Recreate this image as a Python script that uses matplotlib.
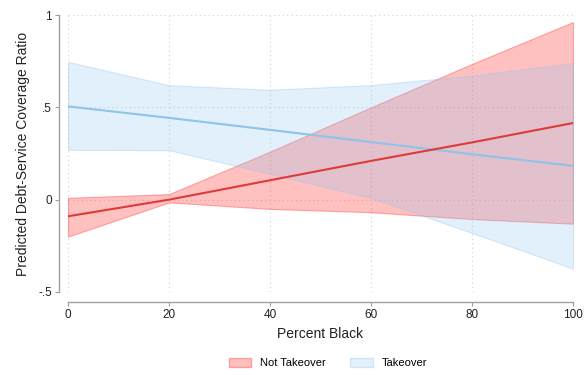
import matplotlib
matplotlib.use("Agg")
import matplotlib.pyplot as plt
from matplotlib.patches import Patch

x = [0, 20, 40, 60, 80, 100]

not_takeover = [-0.09, 0.0, 0.105, 0.21, 0.31, 0.415]
not_takeover_lo = [-0.20, -0.015, -0.05, -0.068, -0.105, -0.13]
not_takeover_hi = [0.01, 0.03, 0.26, 0.50, 0.735, 0.962]

takeover = [0.505, 0.443, 0.378, 0.312, 0.246, 0.183]
takeover_lo = [0.27, 0.268, 0.14, 0.01, -0.18, -0.373]
takeover_hi = [0.746, 0.62, 0.595, 0.62, 0.672, 0.74]

xticks = [0, 20, 40, 60, 80, 100]
yticks = [-0.5, 0, 0.5, 1]
yticklabels = ["-.5", "0", ".5", "1"]

plt.rcParams['font.family'] = ['Liberation Sans', 'DejaVu Sans']

PX = 72 / 100  # points per pixel

fig = plt.figure(figsize=(5.84, 3.75), dpi=100)
ax = fig.add_axes([68/584, 1-292/375, (573-68)/584, (292-15)/375])

red_fill = (1.0, 0.25, 0.25, 0.33)
blue_fill = (0.56, 0.77, 0.94, 0.25)
ax.fill_between(x, not_takeover_lo, not_takeover_hi, facecolor=red_fill,
                edgecolor=(1.0, 0.3, 0.3, 0.45), linewidth=0.8, zorder=2)
ax.fill_between(x, takeover_lo, takeover_hi, facecolor=blue_fill,
                edgecolor=(0.56, 0.77, 0.94, 0.35), linewidth=0.8, zorder=3)
ax.plot(x, takeover, color='#8fc3e8', linewidth=1.5, zorder=4)
ax.plot(x, not_takeover, color='#dc3b3b', linewidth=1.5, zorder=5)

ax.set_xlim(0, 100)
ax.set_ylim(-0.5, 1)
ax.set_xticks(xticks)
ax.set_yticks(yticks)
ax.set_yticklabels(yticklabels)

ax.grid(True, linestyle=(0, (1, 2.5)), color='#d8d8d8', linewidth=0.9)
ax.set_axisbelow(True)

for s in ['top', 'right']:
    ax.spines[s].set_visible(False)
ax.spines['left'].set_position(('outward', 9 * PX))
ax.spines['bottom'].set_position(('outward', 10 * PX))
for s in ['left', 'bottom']:
    ax.spines[s].set_color('#a0a0a0')
    ax.spines[s].set_linewidth(1.0)
ax.tick_params(axis='both', direction='out', length=4 * PX, color='#a0a0a0',
               labelsize=8.5, labelcolor='#222222', pad=3 * PX)

ax.set_xlabel("Percent Black", fontsize=10, color='#222222', labelpad=4)
ax.set_ylabel("Predicted Debt-Service Coverage Ratio", fontsize=10,
              color='#222222', labelpad=6)

handles = [Patch(facecolor=red_fill, edgecolor=(1.0, 0.3, 0.3, 0.45), label='Not Takeover'),
           Patch(facecolor=blue_fill, edgecolor=(0.56, 0.77, 0.94, 0.35), label='Takeover')]
fig.legend(handles=handles, loc='center', bbox_to_anchor=(328/584, 1-363/375),
           ncol=2, frameon=False, fontsize=8, handlelength=2.0, handleheight=0.9,
           columnspacing=2.2, handletextpad=0.8)

fig.savefig("out.png", dpi=100)
